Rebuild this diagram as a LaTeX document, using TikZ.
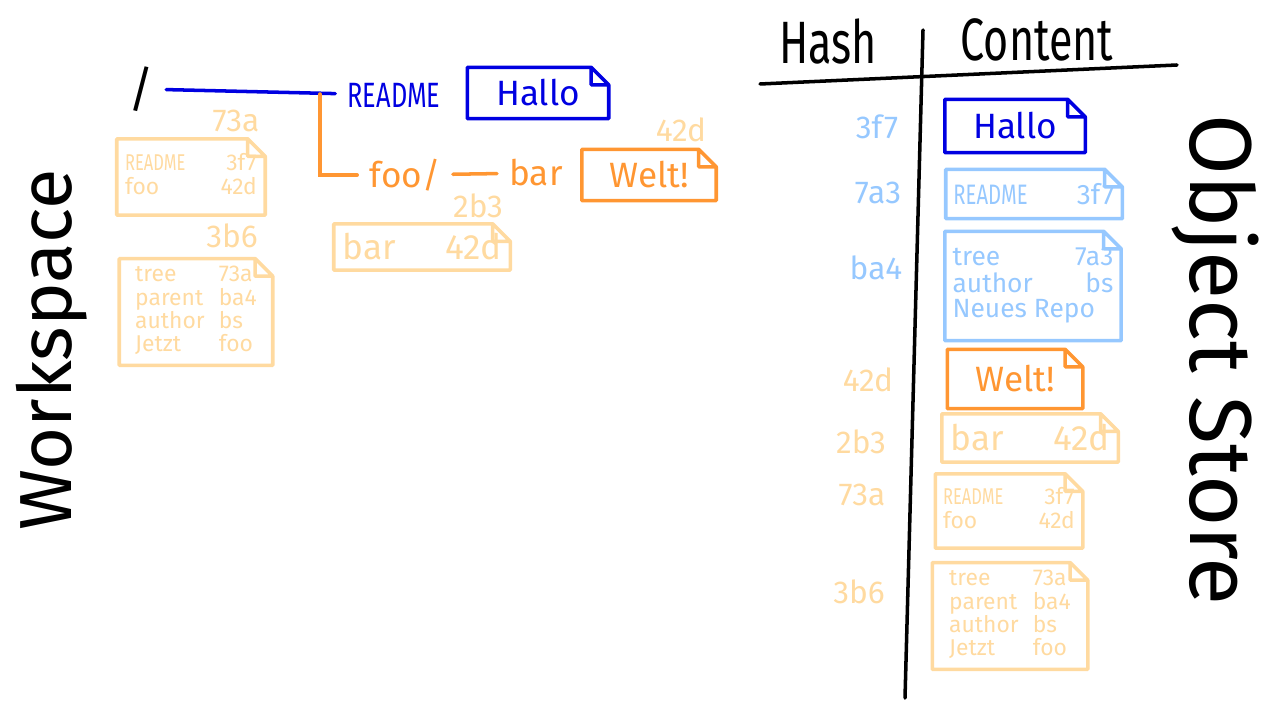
\documentclass[tikz,border=0pt]{standalone}
\usepackage{fontspec}
\setmainfont{Fira Sans}
\newfontfamily\slimfont[FakeStretch=0.72]{Fira Sans}
\usetikzlibrary{positioning}
\definecolor{hblue}{RGB}{0,0,225}
\definecolor{lblue}{RGB}{150,200,255}
\definecolor{horange}{RGB}{255,150,50}
\definecolor{lorange}{RGB}{255,218,160}
\renewcommand{\arraystretch}{0.85}

\tikzset{
  memo/.style={text=#1, inner sep=2pt,
    append after command={\pgfextra{\draw[#1, line width=1pt, line join=round]
      (\tikzlastnode.north west) -- ([xshift=-5pt]\tikzlastnode.north east)
      -- ([yshift=-5pt]\tikzlastnode.north east) -- (\tikzlastnode.south east)
      -- (\tikzlastnode.south west) -- cycle
      ([xshift=-5pt]\tikzlastnode.north east) |- ([yshift=-5pt]\tikzlastnode.north east);}}},
  big/.style={font=\fontsize{10}{12}\selectfont},
  small/.style={font=\fontsize{6.5}{6.8}\selectfont},
  hashlbl/.style={text=#1, font=\fontsize{9}{10}\selectfont},
  title/.style={font=\fontsize{17}{20}\selectfont\slimfont},
  wire/.style={line width=1pt, line cap=round}
}

\begin{document}
\begin{tikzpicture}[x=0.01cm, y=-0.01cm]
  \useasboundingbox (0,0) rectangle (1267,713);
  % Workspace
  \node[rotate=90, font=\fontsize{21}{24}\selectfont] (ws) at (52,350) {Workspace};
  \node[font=\fontsize{14}{14}\selectfont] (root) at (141,89) {/};
  \node[big, text=hblue, font=\fontsize{10}{12}\selectfont\slimfont] (readme) at (394,95) {README};
  \node[big, memo=hblue, minimum width=1.40cm, minimum height=0.50cm] (hallo) at (538,93) {Hallo};
  \node[big, text=horange] (foo) at (405,175) {foo/};
  \node[big, text=horange] (bar) at (536,173) {bar};
  \node[big, memo=horange, minimum width=1.33cm, minimum height=0.50cm] (welt) at (649,175) {Welt!};
  \coordinate (fork) at (320,94);
  \draw[wire, hblue] (root) -- (readme);
  \draw[wire, horange] (fork) |- (foo);
  \draw[wire, horange] (foo) -- (bar);
  % tree / commit objects in the workspace
  \node[hashlbl=lorange] (ws42d) at (681,130) {42d};
  \node[hashlbl=lorange] (ws73a) at (236,121) {73a};
  \node[hashlbl=lorange] (ws3b6) at (232,236) {3b6};
  \node[hashlbl=lorange] (ws2b3) at (478,206) {2b3};
  \node[small, memo=lorange, minimum width=1.47cm, minimum height=0.75cm] (wstree) at (191,177)
    {\begin{tabular}{@{}l@{\hspace{10pt}}r@{}}{\slimfont README} & 3f7\\ foo & 42d\end{tabular}};
  \node[small, memo=lorange, minimum width=1.52cm, minimum height=1.00cm] (wscommit) at (196,312)
    {\begin{tabular}{@{}l@{\hspace{4pt}}l@{}}tree & 73a\\ parent & ba4\\ author & bs\\ Jetzt & foo\end{tabular}};
  \node[big, memo=lorange, minimum width=1.75cm, minimum height=0.45cm] (wsbar) at (422,247)
    {bar\hspace{14pt}42d};
  % Object store
  \node[title] (hash) at (828,42) {Hash};
  \node[title] (content) at (1037,40) {Content};
  \draw[wire] (760,84) -- (1177,65);
  \draw[wire] (923,30) -- (905,698);
  \node[rotate=-90, font=\fontsize{25}{28}\selectfont] (os) at (1215,360) {Object Store};
  \node[hashlbl=lblue] (h3f7) at (877,127) {3f7};
  \node[hashlbl=lblue] (h7a3) at (878,193) {7a3};
  \node[hashlbl=lblue] (hba4) at (876,268) {ba4};
  \node[hashlbl=lorange] (h42d) at (868,380) {42d};
  \node[hashlbl=lorange] (h2b3) at (861,442) {2b3};
  \node[hashlbl=lorange] (h73a) at (862,495) {73a};
  \node[hashlbl=lorange] (h3b6) at (859,592) {3b6};
  \node[big, memo=hblue, minimum width=1.39cm, minimum height=0.52cm] (c3f7) at (1015,126) {Hallo};
  \node[small, memo=lblue, font=\fontsize{8}{9}\selectfont, minimum width=1.72cm, minimum height=0.48cm] (c7a3) at (1034,194)
    {{\slimfont README}\hspace{14pt}3f7};
  \node[small, memo=lblue, font=\fontsize{7.5}{8}\selectfont, minimum width=1.70cm, minimum height=1.08cm] (cba4) at (1033,286)
    {\begin{tabular}{@{}l@{\hspace{12pt}}r@{}}tree & 7a3\\ author & bs\\ \multicolumn{2}{@{}l@{}}{Neues Repo}\end{tabular}};
  \node[big, memo=horange, minimum width=1.34cm, minimum height=0.58cm] (c42d) at (1015,379) {Welt!};
  \node[big, memo=lorange, minimum width=1.75cm, minimum height=0.47cm] (c2b3) at (1030,438)
    {bar\hspace{14pt}42d};
  \node[small, memo=lorange, minimum width=1.46cm, minimum height=0.73cm] (c73a) at (1009,511)
    {\begin{tabular}{@{}l@{\hspace{10pt}}r@{}}{\slimfont README} & 3f7\\ foo & 42d\end{tabular}};
  \node[small, memo=lorange, minimum width=1.54cm, minimum height=1.03cm] (c3b6) at (1010,616)
    {\begin{tabular}{@{}l@{\hspace{4pt}}l@{}}tree & 73a\\ parent & ba4\\ author & bs\\ Jetzt & foo\end{tabular}};
\end{tikzpicture}
\end{document}
